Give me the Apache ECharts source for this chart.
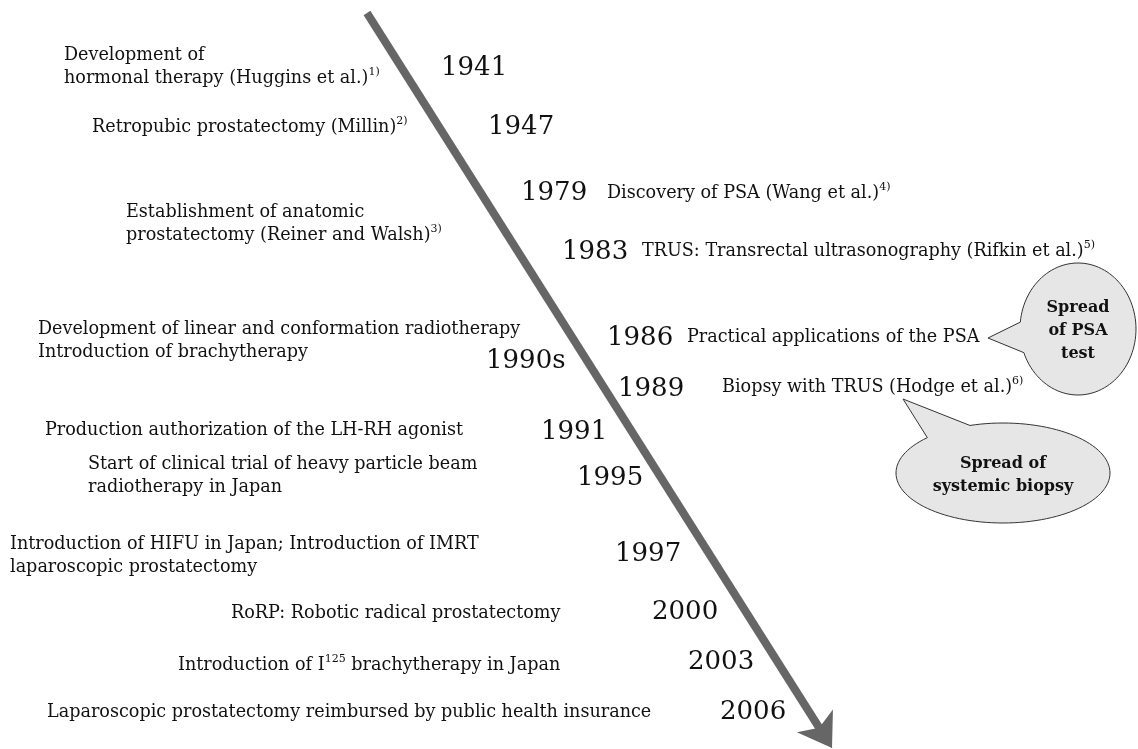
<!DOCTYPE html>
<html>
<head>
<meta charset="utf-8">
<script src="https://cdn.jsdelivr.net/npm/echarts@6/dist/echarts.min.js"></script>
<style>
html, body { margin: 0; padding: 0; background: #fff; }
#chart { width: 1138px; height: 749px; }
</style>
</head>
<body>
<div id="chart"></div>
<script>
// timeline content
var years = ['1941', '1947', '1979', '', '1983', '1986', '1990s', '1989', '1991', '1995', '1997', '2000', '2003', '2006'];
var events = [
  'Development of\nhormonal therapy (Huggins et al.){sup|1)}',
  'Retropubic prostatectomy (Millin){sup|2)}',
  'Discovery of PSA (Wang et al.){sup|4)}',
  'Establishment of anatomic\nprostatectomy (Reiner and Walsh){sup|3)}',
  'TRUS: Transrectal ultrasonography (Rifkin et al.){sup|5)}',
  'Practical applications of the PSA',
  'Development of linear and conformation radiotherapy\nIntroduction of brachytherapy',
  'Biopsy with TRUS (Hodge et al.){sup|6)}',
  'Production authorization of the LH-RH agonist',
  'Start of clinical trial of heavy particle beam\nradiotherapy in Japan',
  'Introduction of HIFU in Japan; Introduction of IMRT\nlaparoscopic prostatectomy',
  'RoRP: Robotic radical prostatectomy',
  'Introduction of I{sup|125} brachytherapy in Japan',
  'Laparoscopic prostatectomy reimbursed by public health insurance'
];
var callouts = ['Spread\nof PSA\ntest', 'Spread of\nsystemic biopsy'];

// layout (pixel space of the hidden axes)
var arrowFrom = [367, 13], arrowBase = [820, 729], arrowTip = [832, 748];
var yearPos = [[441,68],[488,127],[521,193],null,[562,252],[607,338],[486,361],[618,389],[541,432],[577,478],[615,554],[652,612],[688,662],[720,712]];
var textPos = [[64,67],[92,127],[607,193],[126,224],[642,251],[687,337],[38,341],[722,387],[45,430],[88,476],[10,556],[231,613],[178,665],[47,712]];
var bubbles = [
  { cx: 1078, cy: 329, rx: 58, ry: 66, a0: 160, a1: 186, tip: [988, 338] },
  { cx: 1003, cy: 473, rx: 107, ry: 50, a0: 226, a1: 252, tip: [903, 399] }
];

var FONT = 'DejaVu Serif';
var INK = '#111';

function bubblePoints(b) {
  var pts = [];
  for (var a = b.a1; a <= b.a0 + 360; a += 3) {
    var r = a * Math.PI / 180;
    pts.push([b.cx + b.rx * Math.cos(r), b.cy + b.ry * Math.sin(r)]);
  }
  pts.push(b.tip);
  return pts;
}

var yearData = [], textData = [];
years.forEach(function (y, i) {
  if (y) yearData.push({ name: y, value: yearPos[i] });
  textData.push({ name: events[i], value: textPos[i] });
});

var graphics = [];
bubbles.forEach(function (b, i) {
  graphics.push({
    type: 'polygon',
    shape: { points: bubblePoints(b) },
    style: { fill: '#e6e6e6', stroke: '#333', lineWidth: 1 }
  });
  graphics.push({
    type: 'text',
    x: b.cx, y: b.cy + 2,
    style: {
      text: callouts[i], align: 'center', verticalAlign: 'middle',
      font: 'bold 16px "' + FONT + '"', fill: INK, lineHeight: 23
    }
  });
});

var chart = echarts.init(document.getElementById('chart'));
var option = {
  animation: false,
  grid: { left: 0, right: 0, top: 0, bottom: 0 },
  xAxis: { type: 'value', min: 0, max: 1138, show: false },
  yAxis: { type: 'value', min: 0, max: 749, inverse: true, show: false },
  graphic: graphics,
  series: [
    {
      // shaft
      type: 'lines',
      coordinateSystem: 'cartesian2d',
      symbol: 'none',
      lineStyle: { color: '#666', width: 8, opacity: 1 },
      data: [{ coords: [arrowFrom, arrowBase] }]
    },
    {
      // head
      type: 'lines',
      coordinateSystem: 'cartesian2d',
      symbol: ['none', 'arrow'],
      symbolSize: [30, 32],
      lineStyle: { color: '#666', width: 1, opacity: 1 },
      data: [{ coords: [arrowBase, arrowTip] }]
    },
    {
      type: 'scatter',
      symbolSize: 0,
      itemStyle: { opacity: 1 },
      data: yearData,
      label: {
        show: true, position: 'right', distance: 0,
        formatter: '{b}',
        fontFamily: FONT, fontSize: 26, color: INK, opacity: 1
      }
    },
    {
      type: 'scatter',
      symbolSize: 0,
      itemStyle: { opacity: 1 },
      data: textData,
      label: {
        show: true, position: 'right', distance: 0,
        formatter: '{b}',
        fontFamily: FONT, fontSize: 17.6, color: INK, lineHeight: 23, opacity: 1,
        rich: {
          sup: { fontFamily: FONT, fontSize: 11, color: INK, verticalAlign: 'top', lineHeight: 15 }
        }
      }
    }
  ]
};
chart.setOption(option);
</script>
</body>
</html>
